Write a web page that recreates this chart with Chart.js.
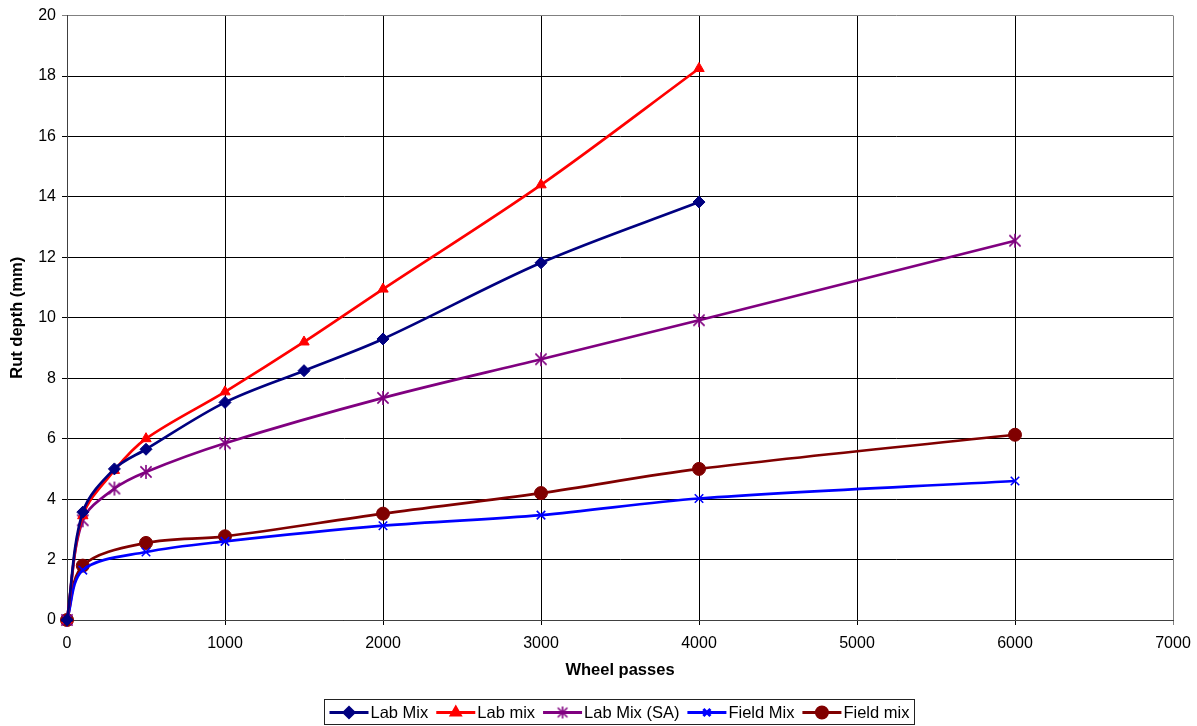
<!DOCTYPE html>
<html>
<head>
<meta charset="utf-8">
<script src="https://cdn.jsdelivr.net/npm/chart.js@4/dist/chart.umd.min.js"></script>
<style>
  html, body { margin: 0; padding: 0; background: #fff; }
  #wrap { width: 1197px; height: 726px; }
</style>
</head>
<body>
<div id="wrap"><canvas id="c" width="1197" height="726"></canvas></div>
<script>
// Wheel passes at which rut depth was recorded
const passesA = [0, 100, 300, 500, 1000, 1500, 2000, 3000, 4000];
const passesSA = [0, 100, 300, 500, 1000, 2000, 3000, 4000, 6000];
const passesField = [0, 100, 500, 1000, 2000, 3000, 4000, 6000];

// Rut depth (mm)
const labMixA = [0, 3.57, 5.0, 5.65, 7.2, 8.25, 9.3, 11.82, 13.83];
const labMixB = [0, 3.45, 4.95, 6.0, 7.55, 9.2, 10.95, 14.4, 18.25];
const labMixSA = [0, 3.3, 4.35, 4.9, 5.85, 7.35, 8.63, 9.92, 12.55];
const fieldMixA = [0, 1.65, 2.25, 2.6, 3.12, 3.47, 4.02, 4.6];
const fieldMixB = [0, 1.8, 2.55, 2.77, 3.52, 4.2, 5.0, 6.13];

const seriesNames = ['Lab Mix', 'Lab mix', 'Lab Mix (SA)', 'Field Mix', 'Field mix'];
const yTickValues = [0, 2, 4, 6, 8, 10, 12, 14, 16, 18, 20];
const xTickValues = [0, 1000, 2000, 3000, 4000, 5000, 6000, 7000];

const FONT = '"Liberation Sans", Arial, sans-serif';

function pairs(xs, ys) { return xs.map((x, i) => ({ x, y: ys[i] })); }

// Asterisk marker: an X with a vertical bar through it
function makeStar(color, r) {
  const s = r * 2 + 4;
  const cv = document.createElement('canvas');
  cv.width = s; cv.height = s;
  const g = cv.getContext('2d');
  const c = s / 2;
  g.strokeStyle = color; g.lineWidth = 1.6;
  g.beginPath();
  g.moveTo(c - r * 0.8, c - r * 0.8); g.lineTo(c + r * 0.8, c + r * 0.8);
  g.moveTo(c + r * 0.8, c - r * 0.8); g.lineTo(c - r * 0.8, c + r * 0.8);
  g.moveTo(c, c - r); g.lineTo(c, c + r);
  g.stroke();
  return cv;
}
const starMarker = makeStar('#800080', 7);
const starLegend = makeStar('#800080', 6);

const styles = [
  { color: '#000080', pointStyle: 'rectRot', radius: 6 },
  { color: '#FF0000', pointStyle: 'triangle', radius: 6 },
  { color: '#800080', pointStyle: starMarker, radius: 7 },
  { color: '#0000FF', pointStyle: 'crossRot', radius: 6 },
  { color: '#800000', pointStyle: 'circle', radius: 6.5 }
];

const seriesData = [
  pairs(passesA, labMixA),
  pairs(passesA, labMixB),
  pairs(passesSA, labMixSA),
  pairs(passesField, fieldMixA),
  pairs(passesField, fieldMixB)
];

const datasets = seriesData.map((d, i) => ({
  label: seriesNames[i],
  data: d,
  borderColor: styles[i].color,
  backgroundColor: styles[i].color,
  borderWidth: 2.7,
  pointStyle: styles[i].pointStyle,
  pointRadius: styles[i].radius,
  pointBorderWidth: i === 3 ? 1.6 : 1,
  pointBackgroundColor: styles[i].color,
  pointBorderColor: styles[i].color,
  tension: 0.33,
  clip: false
}));

// Bottom legend in a framed box, each entry a line sample with its marker
const boxLegend = {
  id: 'boxLegend',
  afterDraw(chart) {
    const ctx = chart.ctx;
    ctx.save();
    ctx.font = '16.5px ' + FONT;
    const lineLen = 39, gapText = 2, gapItem = 8, padX = 5;
    const widths = seriesNames.map(n => lineLen + gapText + ctx.measureText(n).width);
    const total = widths.reduce((a, b) => a + b, 0) + gapItem * (widths.length - 1) + padX * 2;
    const cx = 619;
    const left = Math.round(cx - total / 2) + 0.5;
    const top = 699.5, h = 25;
    ctx.strokeStyle = '#222'; ctx.lineWidth = 1;
    ctx.strokeRect(left, top, Math.round(total), h);
    let x = left + padX;
    const cy = top + h / 2 + 0.5;
    seriesNames.forEach((n, i) => {
      const st = styles[i];
      ctx.strokeStyle = st.color; ctx.lineWidth = 3;
      ctx.beginPath(); ctx.moveTo(x, cy); ctx.lineTo(x + lineLen, cy); ctx.stroke();
      ctx.fillStyle = st.color;
      Chart.helpers.drawPoint(ctx, {
        pointStyle: i === 2 ? starLegend : st.pointStyle, radius: st.radius - 1, rotation: 0,
        borderWidth: i === 3 ? 1.6 : 1
      }, x + lineLen / 2, cy);
      ctx.fillStyle = '#000';
      ctx.textBaseline = 'middle'; ctx.textAlign = 'left';
      ctx.fillText(n, x + lineLen + gapText, cy + 1);
      x += widths[i] + gapItem;
    });
    ctx.restore();
  }
};

new Chart(document.getElementById('c'), {
  type: 'line',
  data: { datasets },
  options: {
    responsive: false,
    animation: false,
    devicePixelRatio: 1,
    layout: { padding: { left: 0, right: 24, top: 15, bottom: 31 } },
    plugins: { legend: { display: false }, tooltip: { enabled: false } },
    scales: {
      x: {
        type: 'linear',
        min: 0, max: 7000,
        afterBuildTicks: s => { s.ticks = xTickValues.map(v => ({ value: v })); },
        afterFit: s => { s.height = 75; s.paddingLeft = 0; s.paddingRight = 0; },
        ticks: { color: '#000', font: { family: FONT, size: 16 }, padding: 9, maxRotation: 0,
                 callback: v => String(v) },
        grid: {
          color: c => (c.tick && c.tick.value === 7000) ? '#808080' : '#000',
          lineWidth: 1, tickLength: 5, drawOnChartArea: true
        },
        border: { color: '#404040', width: 1 },
        title: { display: true, text: 'Wheel passes', color: '#000',
                 font: { family: FONT, size: 16.5, weight: 'bold' }, padding: { top: 0, bottom: 15 } }
      },
      y: {
        min: 0, max: 20,
        afterBuildTicks: s => { s.ticks = yTickValues.map(v => ({ value: v })); },
        afterFit: s => { s.width = 67; },
        ticks: { color: '#000', font: { family: FONT, size: 16 }, padding: 6,
                 callback: v => String(v) },
        grid: {
          color: c => (c.tick && c.tick.value === 20) ? '#808080' : '#000',
          lineWidth: 1, tickLength: 5
        },
        border: { color: '#404040', width: 1 },
        title: { display: true, text: 'Rut depth (mm)', color: '#000',
                 font: { family: FONT, size: 16.5, weight: 'bold' }, padding: { top: 8, bottom: 0 } }
      }
    }
  },
  plugins: [boxLegend]
});
</script>
</body>
</html>
